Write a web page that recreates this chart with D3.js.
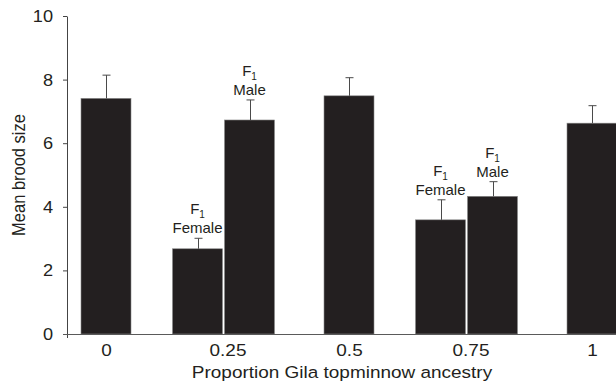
<!DOCTYPE html>
<html>
<head>
<meta charset="utf-8">
<script src="https://cdn.jsdelivr.net/npm/d3@7"></script>
<style>
  body { margin: 0; background: #fff; }
  text { font-family: "Liberation Sans", Arial, sans-serif; fill: #231f20; }
</style>
</head>
<body>
<svg id="chart" width="616" height="382"></svg>
<script>
// data
const proportions = [0, 0.25, 0.25, 0.5, 0.75, 0.75, 1];
const sexes = ["", "Female", "Male", "", "Female", "Male", ""];
const means = [7.41, 2.68, 6.73, 7.49, 3.59, 4.33, 6.63];
const errors = [0.73, 0.33, 0.63, 0.57, 0.63, 0.46, 0.55];
const xTicks = [0, 0.25, 0.5, 0.75, 1];
const yTicks = [0, 2, 4, 6, 8, 10];

const bars = proportions.map((p, i) => ({p: p, sex: sexes[i], mean: means[i], err: errors[i]}));

const svg = d3.select("#chart");
const axisX = 67, baseY = 334;
const stretch = "scale(1.15,1)"; // the original figure is a little wider than tall

var scale = {
    x: d3.scaleLinear().domain([0, 1]).range([106, 592]),
    y: d3.scaleLinear().domain([0, 10]).range([baseY, 16])
};

const barW = 50, gap = 2;
// paired bars sit a few pixels left of the tick position
function barLeft(d) {
    var cx = scale.x(d.p);
    if (d.sex === "Female") return cx - 4 - gap / 2 - barW;
    if (d.sex === "Male") return cx - 4 + gap / 2;
    return cx - barW / 2;
}

// bars
svg.append("g").selectAll("rect").data(bars).join("rect")
    .attr("x", barLeft)
    .attr("y", d => scale.y(d.mean))
    .attr("width", barW)
    .attr("height", d => baseY - scale.y(d.mean))
    .attr("fill", "#231f20")
    .attr("stroke", "#8a8a8a")
    .attr("stroke-width", 0.6);

// error bars (upper only)
var eb = svg.append("g").attr("stroke", "#4a4a4a").attr("stroke-width", 1);
bars.forEach(d => {
    var cx = Math.round(barLeft(d) + barW / 2) + 0.5;
    eb.append("line").attr("x1", cx).attr("x2", cx)
        .attr("y1", scale.y(d.mean)).attr("y2", scale.y(d.mean + d.err));
    eb.append("line").attr("x1", cx - 4).attr("x2", cx + 4)
        .attr("y1", scale.y(d.mean + d.err)).attr("y2", scale.y(d.mean + d.err));
});

// F1 labels
var lab = svg.append("g").attr("text-anchor", "middle").style("font-size", "15px");
bars.filter(d => d.sex).forEach(d => {
    var cx = barLeft(d) + barW / 2;
    var top = scale.y(d.mean + d.err);
    lab.append("text").attr("x", cx).attr("y", top - 5).text(d.sex);
    var f = lab.append("text").attr("x", cx).attr("y", top - 24);
    f.append("tspan").text("F");
    f.append("tspan").attr("dy", 4).style("font-size", "10px").text("1");
});

// y axis
var yAxis = d3.axisLeft(scale.y).tickValues(yTicks).tickSize(4).tickPadding(9).tickSizeOuter(0);
var gy = svg.append("g").attr("transform", `translate(${axisX},0)`).call(yAxis);
gy.select(".domain").attr("stroke", "#444");
gy.selectAll(".tick line").attr("stroke", "#444");
gy.selectAll(".tick text").style("font-size", "17px").attr("x", -13).attr("transform", "scale(1.07,1)")
    .style("font-family", "Liberation Sans, Arial, sans-serif").attr("fill", "#231f20");
// small overhang of the y axis below the baseline
svg.append("line").attr("x1", axisX + 0.5).attr("x2", axisX + 0.5).attr("y1", baseY).attr("y2", baseY + 4).attr("stroke", "#444");

// x axis
var xAxis = d3.axisBottom(scale.x).tickValues(xTicks).tickSize(0).tickPadding(10)
    .tickFormat(d => String(d));
var gx = svg.append("g").attr("transform", `translate(0,${baseY})`).call(xAxis);
gx.select(".domain").remove();
gx.selectAll(".tick text").style("font-size", "16.5px").attr("transform", stretch)
    .style("font-family", "Liberation Sans, Arial, sans-serif").attr("fill", "#231f20");
svg.append("line").attr("x1", axisX - 4).attr("x2", 616).attr("y1", baseY + 0.5).attr("y2", baseY + 0.5)
    .attr("stroke", "#5a5a5a").attr("stroke-width", 1.2);

// titles
svg.append("g").attr("transform", `translate(342,378) ${stretch}`)
    .append("text").attr("text-anchor", "middle")
    .style("font-size", "16.5px").text("Proportion Gila topminnow ancestry");
svg.append("text").attr("transform", "translate(25,175) rotate(-90) scale(1,1.12)").attr("text-anchor", "middle")
    .style("font-size", "16.5px").text("Mean brood size");
</script>
</body>
</html>
